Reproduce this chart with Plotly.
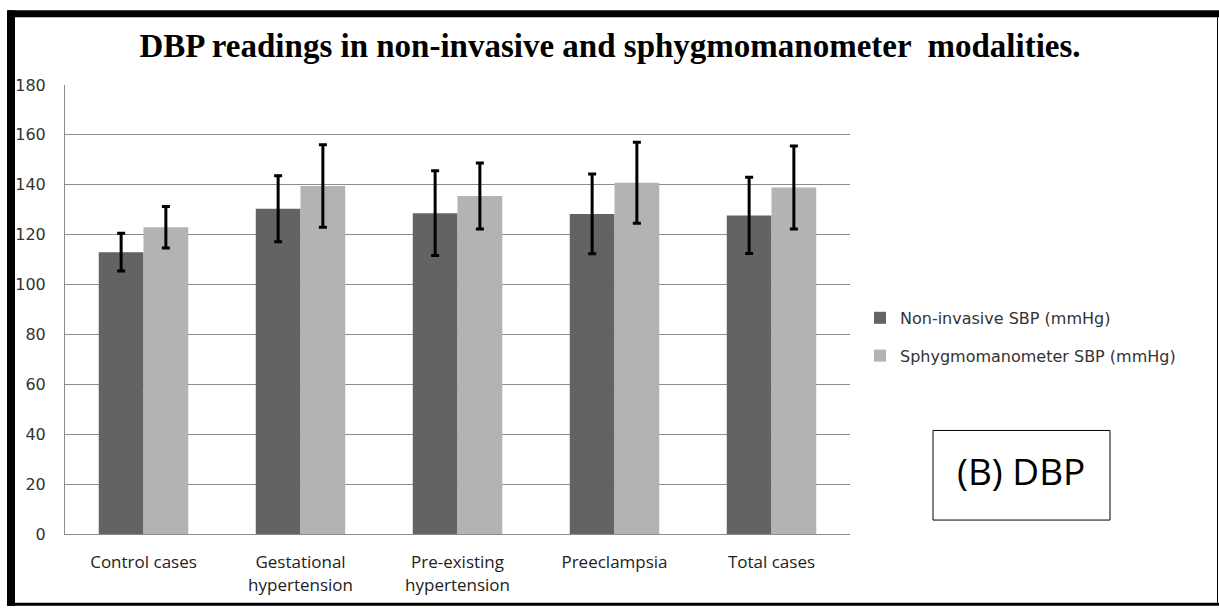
import plotly.graph_objects as go

# ── Data ──────────────────────────────────────
categories = ['Control cases', 'Gestational<br>hypertension', 'Pre-existing<br>hypertension',
              'Preeclampsia', 'Total cases']
noninvasive = [113.0, 130.4, 128.6, 128.3, 127.7]
noninvasive_sd = [7.6, 13.2, 17.0, 16.0, 15.3]
sphygmo = [123.0, 139.5, 135.5, 140.8, 138.9]
sphygmo_sd = [8.3, 16.5, 13.2, 16.2, 16.6]
y_ticks = [0, 20, 40, 60, 80, 100, 120, 140, 160, 180]

W, H = 1219, 608
L, R, T, B = 65, 850, 85, 536   # plot area in pixels


def px(x):
    return (x - L) / (R - L)


def py(y):
    return (B - y) / (B - T)


fig = go.Figure()
fig.add_trace(go.Bar(
    x=categories, y=noninvasive, name='Non-invasive SBP (mmHg)', legendgroup='a',
    marker=dict(color='#636363', line_width=0),
    error_y=dict(type='data', array=noninvasive_sd, color='black', thickness=3, width=4)
))
fig.add_trace(go.Bar(
    x=categories, y=sphygmo, name='Sphygmomanometer SBP (mmHg)', legendgroup='b',
    marker=dict(color='#b3b3b3', line_width=0),
    error_y=dict(type='data', array=sphygmo_sd, color='black', thickness=3, width=4)
))

# black frame round the picture
frame = [
    (8, 10, W, 17),        # top band
    (7, 10, 15, H),        # left band
    (7, 605, W, H),        # bottom band
    (1217, 17, 1218, 605), # right line
]
for x0, y0, x1, y1 in frame:
    fig.add_shape(type='rect', xref='paper', yref='paper',
                  x0=px(x0), x1=px(x1), y0=py(y0), y1=py(y1),
                  fillcolor='black', line_width=0, layer='above')

# (B) DBP box
fig.add_shape(type='rect', xref='paper', yref='paper',
              x0=px(933), x1=px(1110), y0=py(522), y1=py(432),
              line=dict(color='black', width=1), fillcolor='white')
fig.add_annotation(text='(B) DBP', xref='paper', yref='paper',
                   x=px(1021), y=py(472), xanchor='center', yanchor='middle',
                   showarrow=False,
                   font=dict(family='Open Sans', size=37, color='black'))

fig.update_layout(
    width=W, height=H,
    paper_bgcolor='white', plot_bgcolor='white',
    margin=dict(l=L, r=W - R, t=T, b=H - B, pad=0),
    barmode='group', bargap=0.43, bargroupgap=0,
    title=dict(text='DBP readings in non-invasive and sphygmomanometer  modalities.',
               xref='container', yref='container',
               x=610 / W, xanchor='center', y=1 - 45 / H, yanchor='middle',
               font=dict(family='Liberation Serif', size=33, color='black', weight='bold')),
    legend=dict(x=px(860), y=py(338), xanchor='left', yanchor='middle',
                bgcolor='rgba(0,0,0,0)', tracegroupgap=14,
                font=dict(family='DejaVu Sans', size=16, color='#333'),
                traceorder='grouped'),
    font=dict(family='Open Sans', color='#222'),
    showlegend=True,
)
fig.update_yaxes(range=[0, 180], tickvals=y_ticks, showgrid=True,
                 gridcolor='#8c8c8c', gridwidth=1,
                 showline=True, linecolor='#8c8c8c', linewidth=1,
                 ticks='', ticklabelstandoff=15, zeroline=False,
                 tickfont=dict(family='DejaVu Sans', size=16, color='#333'))
fig.update_xaxes(showline=True, linecolor='#8c8c8c', linewidth=1,
                 ticks='', ticklabelstandoff=13,
                 tickfont=dict(family='Open Sans', size=17, color='#222'))

fig.write_html('out.html', config={'displayModeBar': False},
               post_script="document.body.style.margin='0';document.body.style.overflow='hidden';")
